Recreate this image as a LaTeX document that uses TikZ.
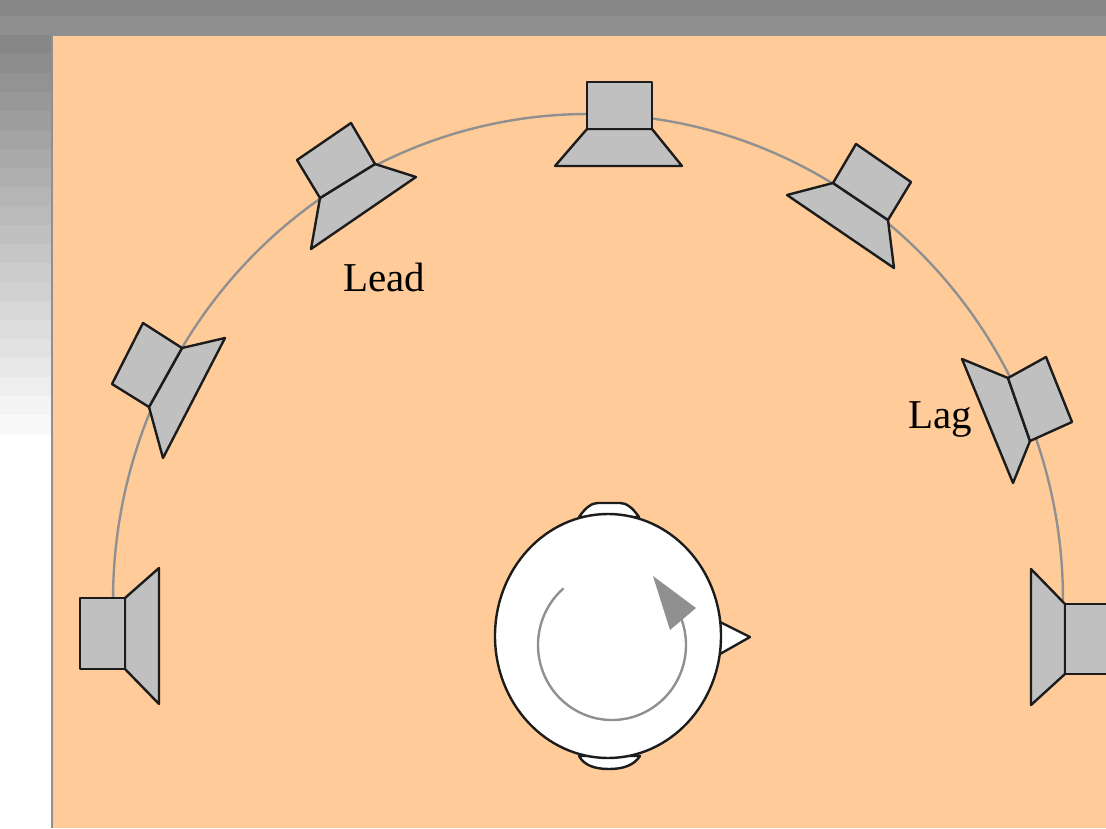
\documentclass[tikz,border=0pt]{standalone}
\usepackage{fontspec}
\setmainfont{Liberation Serif}
\definecolor{panelPeach}{HTML}{FFCC99}
\definecolor{boxGray}{HTML}{C0C0C0}
\definecolor{arcGray}{HTML}{909090}
\definecolor{edgeDark}{HTML}{1C1C1C}
\begin{document}
\begin{tikzpicture}[x=1pt,y=-1pt]
  \tikzset{
    cabinet/.style={draw=edgeDark,line width=2.4pt,line join=round,fill=boxGray},
    headpart/.style={draw=edgeDark,line width=2.4pt,line join=round,fill=white},
    roomlabel/.style={font=\fontsize{41}{44}\selectfont,text=black,inner sep=0pt}
  }
  \useasboundingbox (0,0) rectangle (1106,828);
  \clip (0,0) rectangle (1106,828);

  % window backdrop
  \fill[white] (0,0) rectangle (1106,828);
  \foreach \y [evaluate=\y as \shade using {max(0,47-47*(\y-1)/21)}] in {0,...,22}
    {\fill[black!\shade] (0,{16+19*\y}) rectangle (52,{16+19*(\y+1)+0.5});}
  \fill[black!47] (0,0) rectangle (1106,16);
  \fill[black!44] (0,16) rectangle (1106,35);
  \fill[panelPeach] (52,35) rectangle (1106,828);
  \draw[arcGray,line width=1.5pt] (52,828) -- (52,35) -- (1106,35);

  % ring of speakers
  \draw[arcGray,line width=2.4pt] plot[domain=0:180,samples=90,smooth] ({588+475*cos(\x)},{600-486*sin(\x)});

  \draw[cabinet] (125,598) -- (159,568) -- (159,704) -- (125,669) -- cycle;
  \draw[cabinet] (80,598) -- (125,598) -- (125,669) -- (80,669) -- cycle;

  \draw[cabinet] (182,348) -- (225,338) -- (163,458) -- (149,407) -- cycle;
  \draw[cabinet] (143,323) -- (182,348) -- (149,407) -- (112,384) -- cycle;

  \draw[cabinet] (320,198) -- (375,164) -- (416,177) -- (311,249) -- cycle;
  \draw[cabinet] (297,160) -- (351,123) -- (375,164) -- (320,198) -- cycle;

  \draw[cabinet] (587,129) -- (652,129) -- (682,166) -- (555,166) -- cycle;
  \draw[cabinet] (587,82) -- (652,82) -- (652,129) -- (587,129) -- cycle;

  \draw[cabinet] (833,183) -- (888,220) -- (894,268) -- (787,195) -- cycle;
  \draw[cabinet] (856,144) -- (911,182) -- (888,220) -- (833,183) -- cycle;

  \draw[cabinet] (1008,378) -- (1030,441) -- (1013,483) -- (962,359) -- cycle;
  \draw[cabinet] (1008,378) -- (1046,357) -- (1072,422) -- (1030,441) -- cycle;

  \draw[cabinet] (1065,604) -- (1065,674) -- (1031,705) -- (1031,569) -- cycle;
  \draw[cabinet] (1065,604) -- (1110,604) -- (1110,674) -- (1065,674) -- cycle;

  \node[roomlabel] (lead) at (384,277) {Lead};
  \node[roomlabel] (lag) at (940,419) {Lag};

  % listener seen from above
  \draw[headpart] (579,517) .. controls (586,507) and (592,503) .. (598,503) -- (620,503) .. controls (626,503) and (632,507) .. (639,517) -- cycle;
  \draw[headpart] (579,756) .. controls (584,765) and (594,769) .. (609,769) .. controls (624,769) and (634,765) .. (640,756) -- cycle;
  \draw[headpart] (720,622) -- (750,637) -- (720,654) -- cycle;
  \draw[headpart] (608,636) ellipse (113 and 122);

  \draw[arcGray,line width=2.4pt] plot[domain=131:385,samples=60,smooth] ({612+74*cos(\x)},{645-75*sin(\x)});
  \fill[arcGray] (653,576) -- (696,608) -- (670,630) -- cycle;
\end{tikzpicture}
\end{document}
